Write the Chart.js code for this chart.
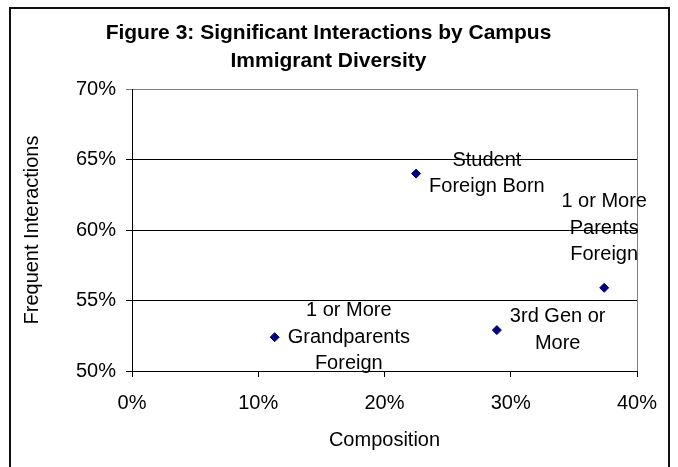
<!DOCTYPE html>
<html>
<head>
<meta charset="utf-8">
<script src="https://cdn.jsdelivr.net/npm/chart.js@4/dist/chart.umd.min.js"></script>
<style>
  body { margin: 0; background: #fff; }
  #frame { position: absolute; left: 9px; top: 7px; width: 657px; height: 500px; border: 2px solid #111; }
  #wrap { position: absolute; left: 0; top: 0; width: 678px; height: 467px; }
</style>
</head>
<body>
<div id="frame"></div>
<div id="wrap"><canvas id="myChart" width="678" height="467"></canvas></div>
<script>
// Datos (porcentajes)
const composition = [11.3, 22.5, 28.9, 37.4];
const frequentInteractions = [52.4, 64.0, 52.9, 55.9];
const groupLabels = [
  ["1 or More", "Grandparents", "Foreign"],
  ["Student", "Foreign Born"],
  ["3rd Gen or", "More"],
  ["1 or More", "Parents", "Foreign"]
];
const xTicks = [0, 10, 20, 30, 40];
const yTicks = [50, 55, 60, 65, 70];

const FONT = "'Liberation Sans', Arial, sans-serif";

// etiquetas de los puntos, a la derecha o arriba si no entran
const pointLabels = {
  id: "pointLabels",
  afterDatasetsDraw(chart) {
    const ctx = chart.ctx;
    const meta = chart.getDatasetMeta(0);
    const lh = 26.5;
    ctx.save();
    ctx.font = "20px " + FONT;
    ctx.fillStyle = "#000";
    ctx.textAlign = "center";
    ctx.textBaseline = "middle";
    meta.data.forEach((pt, i) => {
      const lines = groupLabels[i];
      const w = Math.max(...lines.map(l => ctx.measureText(l).width));
      let cx, firstY;
      if (pt.x + 14 + w > chart.width) {
        cx = Math.min(pt.x, chart.width - 12 - w / 2);
        firstY = pt.y - 33 - (lines.length - 1) * lh;
      } else {
        cx = pt.x + 13 + w / 2;
        firstY = pt.y - (lines.length - 1) * lh / 2;
      }
      lines.forEach((l, j) => ctx.fillText(l, cx, firstY + j * lh));
    });
    ctx.restore();
  }
};

// borde derecho gris del area de trazado
const plotBorder = {
  id: "plotBorder",
  beforeDatasetsDraw(chart) {
    const a = chart.chartArea;
    const ctx = chart.ctx;
    ctx.save();
    ctx.strokeStyle = "#808080";
    ctx.lineWidth = 1;
    ctx.beginPath();
    ctx.moveTo(Math.round(a.right) + 0.5, a.top);
    ctx.lineTo(Math.round(a.right) + 0.5, a.bottom);
    ctx.stroke();
    ctx.restore();
  }
};

const data = {
  datasets: [{
    data: composition.map((x, i) => ({ x: x, y: frequentInteractions[i] })),
    pointStyle: "rectRot",
    pointRadius: 4.5,
    backgroundColor: "#000080",
    borderColor: "#000080",
    borderWidth: 1
  }]
};

const config = {
  type: "scatter",
  data: data,
  plugins: [plotBorder, pointLabels],
  options: {
    responsive: false,
    animation: false,
    layout: { padding: { left: 20, right: 41, top: 0, bottom: 0 } },
    plugins: {
      legend: { display: false },
      tooltip: { enabled: false },
      title: {
        display: true,
        text: ["Figure 3: Significant Interactions by Campus", "Immigrant Diversity"],
        color: "#000",
        font: { family: FONT, size: 21, weight: "bold", lineHeight: 28 / 21 },
        padding: { top: 19, bottom: 14 }
      }
    },
    scales: {
      x: {
        type: "linear",
        min: xTicks[0],
        max: xTicks[xTicks.length - 1],
        afterBuildTicks: (s) => { s.ticks = xTicks.map(v => ({ value: v })); },
        afterFit: (s) => { s.height = 96; },
        border: { color: "#000", width: 1 },
        grid: { drawOnChartArea: false, drawTicks: true, tickLength: 6, color: "#000" },
        ticks: { color: "#000", font: { family: FONT, size: 20 }, padding: 14, callback: v => v + "%" },
        title: { display: true, text: "Composition", color: "#000", font: { family: FONT, size: 20 }, padding: { top: 0, bottom: 15 } }
      },
      y: {
        type: "linear",
        min: yTicks[0],
        max: yTicks[yTicks.length - 1],
        afterBuildTicks: (s) => { s.ticks = yTicks.map(v => ({ value: v })); },
        afterFit: (s) => { s.width = 112; },
        border: { color: "#000", width: 1 },
        grid: {
          drawTicks: true,
          tickLength: 6,
          color: (c) => (c.tick && c.tick.value === 70 ? "#808080" : "#000")
        },
        ticks: { color: "#000", font: { family: FONT, size: 20 }, padding: 10, callback: v => v + "%" },
        title: { display: true, text: "Frequent Interactions", color: "#000", font: { family: FONT, size: 20 }, padding: { top: 0, bottom: 0 } }
      }
    }
  }
};

const myChart = new Chart(document.getElementById("myChart"), config);
</script>
</body>
</html>
